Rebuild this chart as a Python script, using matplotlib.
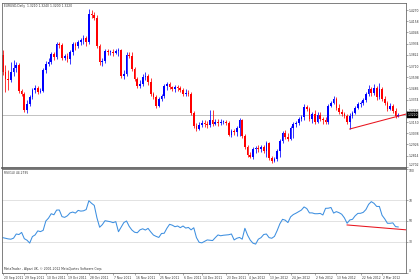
import matplotlib
matplotlib.use("Agg")
import matplotlib.pyplot as plt
import matplotlib.transforms as mtransforms

# ---------------- data (EURUSD daily) ----------------
opens = [1.382, 1.365, 1.358, 1.357, 1.365, 1.369, 1.372, 1.346, 1.343, 1.327,
         1.333, 1.340, 1.347, 1.349, 1.345, 1.346, 1.367, 1.373, 1.375, 1.383,
         1.380, 1.393, 1.392, 1.379, 1.381, 1.378, 1.385, 1.393, 1.391, 1.395,
         1.397, 1.399, 1.395, 1.423, 1.422, 1.419, 1.391, 1.375, 1.376, 1.386,
         1.385, 1.385, 1.384, 1.386, 1.387, 1.361, 1.363, 1.382, 1.381, 1.368,
         1.358, 1.351, 1.353, 1.360, 1.361, 1.355, 1.343, 1.340, 1.331, 1.338,
         1.341, 1.351, 1.353, 1.350, 1.348, 1.350, 1.349, 1.347, 1.343, 1.344,
         1.343, 1.324, 1.311, 1.308, 1.312, 1.314, 1.313, 1.312, 1.317, 1.313,
         1.315, 1.314, 1.315, 1.315, 1.314, 1.302, 1.306, 1.305, 1.309, 1.317,
         1.301, 1.290, 1.282, 1.280, 1.288, 1.289, 1.288, 1.290, 1.286, 1.294,
         1.279, 1.276, 1.278, 1.286, 1.296, 1.304, 1.300, 1.298, 1.309, 1.313,
         1.314, 1.318, 1.320, 1.330, 1.328, 1.318, 1.323, 1.315, 1.322, 1.318,
         1.317, 1.315, 1.331, 1.334, 1.338, 1.329, 1.325, 1.323, 1.321, 1.315,
         1.321, 1.324, 1.329, 1.333, 1.334, 1.337, 1.343, 1.348, 1.344, 1.349,
         1.340, 1.348, 1.338, 1.334, 1.328, 1.331, 1.326, 1.321]
highs = [1.387, 1.372, 1.367, 1.375, 1.377, 1.375, 1.374, 1.348, 1.345, 1.337,
         1.342, 1.349, 1.352, 1.351, 1.349, 1.369, 1.376, 1.379, 1.385, 1.385,
         1.395, 1.395, 1.394, 1.383, 1.384, 1.387, 1.395, 1.395, 1.397, 1.399,
         1.402, 1.401, 1.428, 1.427, 1.425, 1.422, 1.393, 1.379, 1.388, 1.388,
         1.387, 1.388, 1.388, 1.389, 1.388, 1.367, 1.385, 1.385, 1.385, 1.370,
         1.360, 1.357, 1.363, 1.365, 1.363, 1.359, 1.345, 1.342, 1.340, 1.343,
         1.353, 1.355, 1.355, 1.351, 1.352, 1.352, 1.351, 1.349, 1.348, 1.347,
         1.345, 1.326, 1.314, 1.315, 1.317, 1.317, 1.316, 1.327, 1.327, 1.318,
         1.318, 1.318, 1.317, 1.317, 1.316, 1.308, 1.308, 1.311, 1.319, 1.318,
         1.303, 1.292, 1.285, 1.290, 1.291, 1.292, 1.292, 1.292, 1.296, 1.295,
         1.281, 1.280, 1.288, 1.298, 1.306, 1.307, 1.304, 1.311, 1.315, 1.316,
         1.320, 1.322, 1.333, 1.332, 1.330, 1.325, 1.327, 1.325, 1.325, 1.320,
         1.320, 1.333, 1.336, 1.341, 1.340, 1.333, 1.328, 1.325, 1.323, 1.324,
         1.326, 1.331, 1.335, 1.336, 1.339, 1.345, 1.352, 1.350, 1.353, 1.351,
         1.354, 1.350, 1.341, 1.336, 1.334, 1.333, 1.329, 1.324]
lows = [1.362, 1.345, 1.347, 1.355, 1.361, 1.365, 1.344, 1.341, 1.325, 1.324,
        1.331, 1.338, 1.344, 1.343, 1.344, 1.345, 1.364, 1.371, 1.373, 1.377,
        1.378, 1.389, 1.377, 1.377, 1.375, 1.373, 1.382, 1.387, 1.389, 1.392,
        1.393, 1.391, 1.393, 1.419, 1.417, 1.389, 1.372, 1.371, 1.374, 1.382,
        1.382, 1.381, 1.383, 1.381, 1.359, 1.358, 1.361, 1.379, 1.366, 1.356,
        1.349, 1.349, 1.351, 1.357, 1.352, 1.341, 1.338, 1.329, 1.330, 1.336,
        1.339, 1.347, 1.348, 1.346, 1.345, 1.346, 1.345, 1.341, 1.341, 1.341,
        1.322, 1.309, 1.306, 1.307, 1.310, 1.310, 1.309, 1.310, 1.311, 1.312,
        1.311, 1.312, 1.313, 1.312, 1.301, 1.300, 1.302, 1.301, 1.301, 1.299,
        1.288, 1.280, 1.279, 1.278, 1.284, 1.285, 1.285, 1.284, 1.280, 1.277,
        1.274, 1.275, 1.276, 1.280, 1.294, 1.298, 1.296, 1.297, 1.299, 1.310,
        1.312, 1.316, 1.317, 1.326, 1.316, 1.314, 1.313, 1.314, 1.316, 1.313,
        1.313, 1.313, 1.330, 1.333, 1.327, 1.323, 1.321, 1.319, 1.313, 1.308,
        1.319, 1.323, 1.328, 1.330, 1.332, 1.335, 1.341, 1.341, 1.342, 1.337,
        1.338, 1.336, 1.332, 1.326, 1.327, 1.324, 1.319, 1.320]
closes = [1.365, 1.358, 1.357, 1.365, 1.369, 1.372, 1.346, 1.343, 1.327, 1.333,
          1.340, 1.347, 1.349, 1.345, 1.346, 1.367, 1.373, 1.375, 1.383, 1.380,
          1.393, 1.392, 1.379, 1.381, 1.378, 1.385, 1.393, 1.391, 1.395, 1.397,
          1.399, 1.395, 1.423, 1.422, 1.419, 1.391, 1.375, 1.376, 1.386, 1.385,
          1.385, 1.384, 1.386, 1.387, 1.361, 1.363, 1.382, 1.381, 1.368, 1.358,
          1.351, 1.353, 1.360, 1.361, 1.355, 1.343, 1.340, 1.331, 1.338, 1.341,
          1.351, 1.353, 1.350, 1.348, 1.350, 1.349, 1.347, 1.343, 1.344, 1.343,
          1.324, 1.311, 1.308, 1.312, 1.314, 1.313, 1.312, 1.317, 1.313, 1.315,
          1.314, 1.315, 1.315, 1.314, 1.302, 1.306, 1.305, 1.309, 1.317, 1.301,
          1.290, 1.282, 1.280, 1.288, 1.289, 1.288, 1.290, 1.286, 1.294, 1.279,
          1.276, 1.278, 1.286, 1.296, 1.304, 1.300, 1.298, 1.309, 1.313, 1.314,
          1.318, 1.320, 1.330, 1.328, 1.318, 1.323, 1.315, 1.322, 1.318, 1.317,
          1.315, 1.331, 1.334, 1.338, 1.329, 1.325, 1.323, 1.321, 1.315, 1.321,
          1.324, 1.329, 1.333, 1.334, 1.337, 1.343, 1.348, 1.344, 1.349, 1.340,
          1.348, 1.338, 1.334, 1.328, 1.331, 1.326, 1.321, 1.322]
rsi = [34.0, 33.4, 32.8, 32.5, 33.5, 37.5, 37.0, 39.0, 33.0, 31.5,
       28.8, 35.0, 36.6, 40.5, 39.8, 41.0, 50.0, 52.8, 57.0, 56.0,
       60.5, 60.6, 54.2, 53.5, 55.0, 57.8, 58.6, 57.6, 60.2, 59.5,
       59.8, 61.0, 69.5, 67.0, 65.0, 53.0, 44.0, 46.5, 50.3, 49.8,
       49.3, 48.4, 49.4, 39.7, 44.0, 48.5, 50.0, 44.8, 41.3, 39.2,
       38.7, 41.5, 42.5, 41.3, 42.9, 39.5, 36.5, 35.2, 34.2, 38.0,
       38.2, 43.0, 46.8, 46.0, 44.5, 45.2, 43.6, 45.2, 43.2, 43.8,
       41.5, 43.5, 34.0, 29.5, 29.0, 30.4, 31.8, 31.5, 31.2, 34.0,
       36.6, 35.8, 36.3, 36.6, 36.8, 37.5, 31.8, 33.4, 34.2, 32.5,
       43.0, 36.4, 31.6, 28.7, 27.8, 32.5, 34.0, 37.0, 37.5, 34.0,
       33.4, 35.2, 40.8, 47.3, 51.6, 50.8, 48.5, 54.0, 56.2, 57.5,
       59.0, 60.5, 63.5, 62.0, 57.8, 57.8, 57.0, 57.0, 57.3, 55.8,
       62.2, 62.3, 63.0, 57.6, 59.0, 58.0, 56.5, 53.0, 47.8, 51.0,
       51.6, 55.0, 57.3, 57.4, 58.3, 61.0, 66.0, 68.6, 67.0, 64.0,
       64.0, 55.5, 52.0, 47.8, 47.8, 48.2, 44.6, 44.2795]

price_ticks = [1.4270, 1.4158, 1.4046, 1.3934, 1.3822, 1.3710, 1.3598, 1.3486,
               1.3374, 1.3262, 1.3150, 1.3038, 1.2926, 1.2814, 1.2702]
rsi_ticks = [0, 30, 50, 70, 100]
rsi_levels = [30, 50, 70]
date_labels = ["20 Sep 2011", "29 Sep 2011", "10 Oct 2011", "19 Oct 2011",
               "28 Oct 2011", "7 Nov 2011", "16 Nov 2011", "25 Nov 2011",
               "6 Dec 2011", "14 Dec 2011", "23 Dec 2011", "4 Jan 2012",
               "13 Jan 2012", "24 Jan 2012", "2 Feb 2012", "13 Feb 2012",
               "22 Feb 2012", "2 Mar 2012"]
date_pos = [0, 8, 16, 24, 32, 41, 49, 58, 67, 74, 83, 91, 99, 107, 116, 124, 133, 141]
trend_main_x = [129, 150]
trend_main_y = [1.308, 1.323]
trend_rsi_x = [128, 150]
trend_rsi_y = [46.2, 41.5]

title_text = "EURUSD,Daily  1.3210 1.3240 1.3200 1.3220"
rsi_text = "RSI(14) 44.2795"
copyright_text = "MetaTrader - Alpari UK, \u00a9 2001-2012 MetaQuotes Software Corp."

# ---------------- figure ----------------
W, H = 420, 280
fig = plt.figure(figsize=(W / 100, H / 100), dpi=100)
fig.patch.set_facecolor("white")

FS = 2.2
TXT = "#333333"
SPINE = "#6a6a6a"

ax = fig.add_axes([2 / W, 1 - 168 / H, 404 / W, 165 / H])
axr = fig.add_axes([2 / W, 1 - 273 / H, 404 / W, 104 / H])

n = len(closes)
xs = list(range(n))
UP, DN = "#0000ff", "#ff0000"
for i in xs:
    o, h, l, c = opens[i], highs[i], lows[i], closes[i]
    col = UP if c >= o else DN
    ax.vlines(i, l, h, color=col, lw=0.55)
    height = abs(c - o)
    if height < 0.0006:
        height = 0.0006
    ax.bar(i, height, bottom=min(o, c), width=0.62, color=col, linewidth=0)

# bid line
ax.axhline(closes[-1], color="#b8b8b8", lw=0.6, zorder=0)
# trend line
ax.plot(trend_main_x, trend_main_y, color="#e8141e", lw=0.75)

ax.set_xlim(-0.3, 149.9)
ax.set_ylim(1.269, 1.434)
ax.yaxis.tick_right()
ax.set_yticks(price_ticks)
ax.set_yticklabels([f"{t:.4f}" for t in price_ticks])
ax.tick_params(axis="y", labelsize=FS, length=1.2, width=0.4, pad=0.6,
               colors=SPINE, labelcolor=TXT)
ax.get_yticklabels()[-1].set_verticalalignment("bottom")
ax.set_xticks([])
for s in ax.spines.values():
    s.set_color(SPINE)
    s.set_linewidth(0.6)
ax.spines["bottom"].set_linewidth(1.2)
ax.spines["bottom"].set_color("#555555")

# current price box
trans = mtransforms.blended_transform_factory(ax.transAxes, ax.transData)
ax.text(1.003, closes[-1], f"{closes[-1]:.4f}", transform=trans, fontsize=FS,
        color="white", va="center", ha="left", clip_on=False,
        bbox=dict(boxstyle="square,pad=0.2", fc="black", ec="black", lw=0.3))

# ---------------- RSI ----------------
for lv in rsi_levels:
    axr.axhline(lv, color="#d6d6d6", lw=0.5, zorder=0)
axr.plot(xs, rsi, color="#3d8fe0", lw=0.75)
axr.plot(trend_rsi_x, trend_rsi_y, color="#e8141e", lw=0.75)
axr.set_xlim(-0.3, 149.9)
axr.set_ylim(0, 100)
axr.yaxis.tick_right()
axr.set_yticks(rsi_ticks)
axr.set_yticklabels([str(t) for t in rsi_ticks])
axr.tick_params(axis="y", labelsize=FS, length=1.2, width=0.4, pad=0.6,
                colors=SPINE, labelcolor=TXT)
axr.get_yticklabels()[-1].set_verticalalignment("top")
axr.get_yticklabels()[0].set_verticalalignment("bottom")
axr.set_xticks(date_pos)
axr.set_xticklabels([])
axr.tick_params(axis="x", length=1.2, width=0.4, colors=SPINE)
tx = mtransforms.blended_transform_factory(axr.transData, axr.transAxes)
for p, lab in zip(date_pos, date_labels):
    axr.text(p + 0.4, -0.025, lab, transform=tx, fontsize=FS, color=TXT,
             ha="left", va="top", clip_on=False)
for s in axr.spines.values():
    s.set_color(SPINE)
    s.set_linewidth(0.6)

# ---------------- texts ----------------
fig.text(4 / W, 1 - 6 / H, title_text, fontsize=FS, color=TXT, va="center", ha="left")
fig.text(4 / W, 1 - 173 / H, rsi_text, fontsize=FS, color=TXT, va="center", ha="left")
fig.text(4 / W, 1 - 269 / H, copyright_text, fontsize=FS, color=TXT, va="center", ha="left")

fig.savefig("out.png", dpi=100, facecolor="white")
